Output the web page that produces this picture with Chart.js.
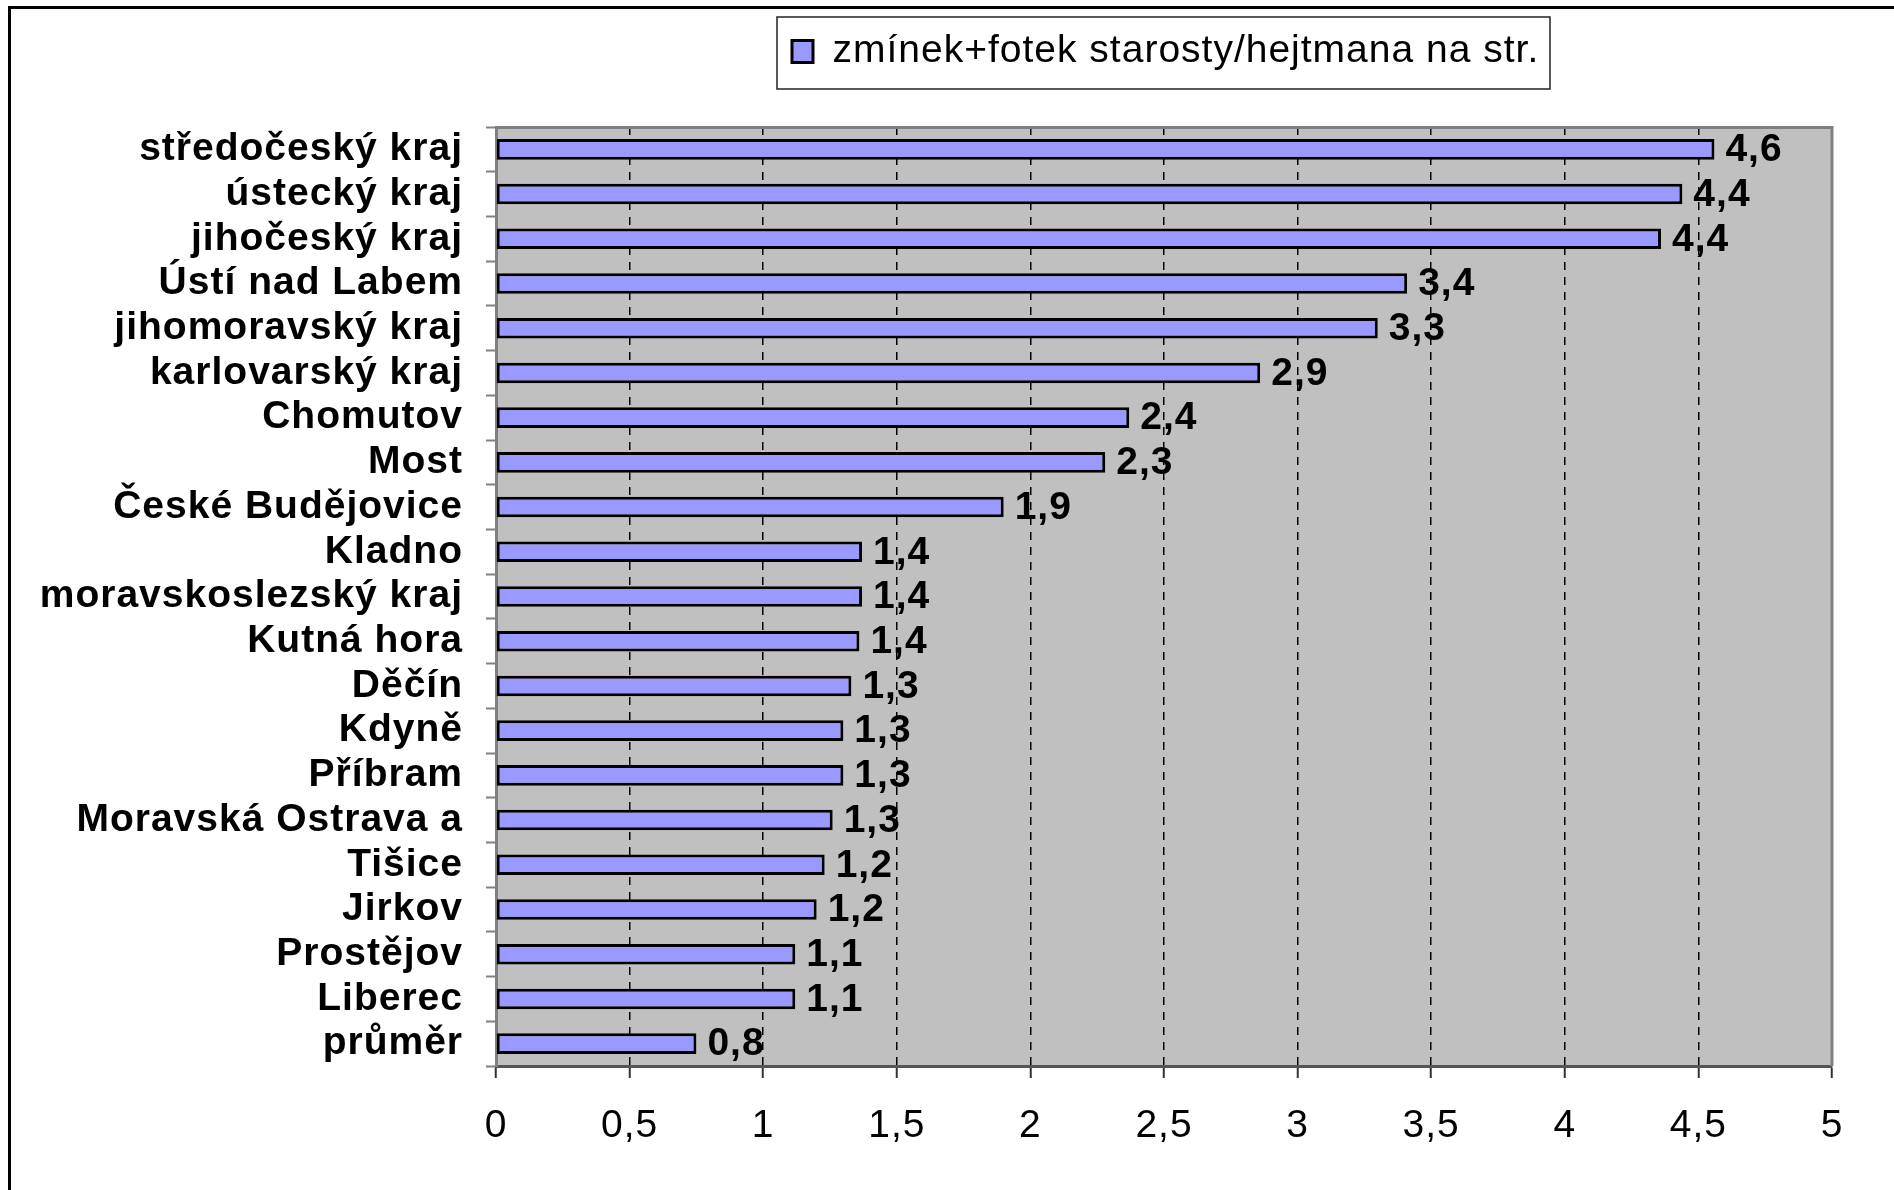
<!DOCTYPE html>
<html>
<head>
<meta charset="utf-8">
<script src="https://cdn.jsdelivr.net/npm/chart.js@4/dist/chart.umd.min.js"></script>
<style>
  html, body { margin: 0; padding: 0; background: #fff; }
  #wrap { width: 1894px; height: 1190px; position: relative; }
</style>
</head>
<body>
<div id="wrap"><canvas id="c"></canvas></div>
<script>
const categories = ['středočeský kraj', 'ústecký kraj', 'jihočeský kraj', 'Ústí nad Labem', 'jihomoravský kraj',
  'karlovarský kraj', 'Chomutov', 'Most', 'České Budějovice', 'Kladno', 'moravskoslezský kraj', 'Kutná hora',
  'Děčín', 'Kdyně', 'Příbram', 'Moravská Ostrava a', 'Tišice', 'Jirkov', 'Prostějov', 'Liberec', 'průměr'];
const seriesName = 'zmínek+fotek starosty/hejtmana na str.';
const values = [4.56, 4.44, 4.36, 3.41, 3.30, 2.86, 2.37, 2.28, 1.90, 1.37, 1.37, 1.36,
  1.33, 1.30, 1.30, 1.26, 1.23, 1.20, 1.12, 1.12, 0.75];
const xMin = 0, xMax = 5, xStep = 0.5;

const FONT = "'Liberation Sans', Arial, sans-serif";
const fmt = v => Number(v).toFixed(1).replace('.', ',');
const fmtTick = v => String(Math.round(v * 10) / 10).replace('.', ',');

Chart.defaults.font.family = FONT;
Chart.defaults.color = '#000';

const decor = {
  id: 'decor',
  beforeLayout(chart) { chart.ctx.letterSpacing = '1px'; },
  afterLayout(chart) {
    const lg = chart.legend;
    lg.left = 777; lg.top = 17; lg.width = 773; lg.height = 72;
    lg.right = lg.left + lg.width; lg.bottom = lg.top + lg.height;
  },
  beforeDraw(chart) {
    const { ctx, chartArea: a } = chart;
    ctx.letterSpacing = '1px';
    ctx.save();
    ctx.fillStyle = '#fff';
    ctx.fillRect(0, 0, chart.width, chart.height);
    ctx.fillStyle = '#C0C0C0';
    ctx.fillRect(a.left, a.top, a.right - a.left, a.bottom - a.top);
    // outer frame (top & left visible)
    ctx.strokeStyle = '#000';
    ctx.lineWidth = 3;
    ctx.beginPath();
    ctx.moveTo(9.5, chart.height + 5);
    ctx.lineTo(9.5, 7.5);
    ctx.lineTo(chart.width + 5, 7.5);
    ctx.stroke();
    // legend frame
    const lg = chart.legend;
    ctx.lineWidth = 1.5;
    ctx.strokeStyle = '#222';
    ctx.strokeRect(lg.left, lg.top, lg.width, lg.height);
    ctx.restore();
  },
  beforeDatasetsDraw(chart) {
    const { ctx, chartArea: a } = chart;
    ctx.save();
    ctx.strokeStyle = '#808080';
    ctx.lineWidth = 3;
    ctx.beginPath();
    ctx.moveTo(a.left, a.top + 0.5);
    ctx.lineTo(a.right, a.top + 0.5);
    ctx.lineTo(a.right, a.bottom);
    ctx.stroke();
    ctx.restore();
  },
  afterDatasetsDraw(chart) {
    const { ctx } = chart;
    const meta = chart.getDatasetMeta(0);
    ctx.save();
    ctx.letterSpacing = '1px';
    ctx.font = 'bold 39px ' + FONT;
    ctx.fillStyle = '#000';
    ctx.textAlign = 'left';
    ctx.textBaseline = 'middle';
    meta.data.forEach((bar, i) => {
      ctx.fillText(fmt(chart.data.datasets[0].data[i]), bar.x + 11, bar.y + 1);
    });
    ctx.restore();
  }
};

new Chart(document.getElementById('c'), {
  type: 'bar',
  data: {
    labels: categories,
    datasets: [{
      label: seriesName,
      data: values,
      backgroundColor: '#9999FF',
      borderColor: '#000',
      borderWidth: 3,
      borderSkipped: false,
      barPercentage: 0.46,
      categoryPercentage: 1.0
    }]
  },
  options: {
    indexAxis: 'y',
    responsive: true,
    maintainAspectRatio: false,
    animation: false,
    layout: { padding: { top: 127, right: 62, left: 0, bottom: 0 } },
    plugins: {
      legend: {
        position: 'chartArea',
        align: 'start',
        labels: {
          font: { size: 39, family: FONT },
          color: '#000',
          boxWidth: 21,
          boxHeight: 22,
          padding: 15
        }
      },
      tooltip: { enabled: false }
    },
    scales: {
      x: {
        type: 'linear',
        min: xMin,
        max: xMax,
        afterFit(s) { s.height = 124; },
        ticks: {
          stepSize: xStep,
          callback: v => fmtTick(v),
          font: { size: 39, family: FONT },
          color: '#000',
          padding: 25
        },
        grid: {
          color: c => (c.tick && (c.tick.value === xMin || c.tick.value === xMax)) ? 'rgba(0,0,0,0)' : '#000',
          lineWidth: 1.5,
          borderDash: [8, 7],
          drawTicks: true,
          tickLength: 12,
          tickColor: '#333',
          tickWidth: 2,
          tickBorderDash: []
        },
        border: { display: true, color: '#555', width: 3, dash: [8, 7] }
      },
      y: {
        type: 'category',
        afterFit(s) { s.width = 496; },
        ticks: {
          font: { size: 39, weight: 'bold', family: FONT },
          color: '#000',
          padding: 23,
          autoSkip: false
        },
        grid: {
          display: true,
          drawOnChartArea: false,
          drawTicks: true,
          tickLength: 10,
          tickColor: '#808080',
          tickWidth: 2,
          offset: true
        },
        border: { display: true, color: '#808080', width: 3 }
      }
    }
  },
  plugins: [decor]
});
</script>
</body>
</html>
